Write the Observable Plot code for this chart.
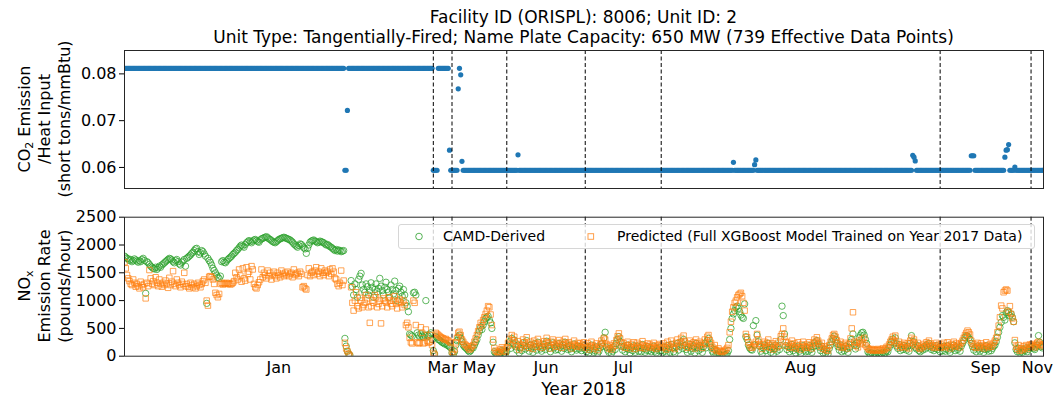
<!DOCTYPE html>
<html><head><meta charset="utf-8">
<script src="https://cdn.jsdelivr.net/npm/d3@7"></script>
<script src="https://cdn.jsdelivr.net/npm/@observablehq/plot@0.6"></script>
<style>
body{margin:0;background:#fff;}
#root{position:relative;width:1056px;height:400px;font-family:"DejaVu Sans",sans-serif;color:#000;overflow:hidden;background:#fff}
.abs{position:absolute}
.title{left:124px;width:919px;top:7px;text-align:center;font-size:17px;line-height:20px;white-space:nowrap}
.ylab{transform:translate(-50%,-50%) rotate(-90deg);text-align:center;font-size:16px;line-height:20px;white-space:nowrap}
sub{font-size:11px;vertical-align:-3px;line-height:0}
.xlab{left:124px;width:919px;top:379px;text-align:center;font-size:17px;line-height:20px}
.legend{left:398px;top:224px;width:637px;height:25px;border:1px solid #d6d6d6;border-radius:3px;background:rgba(255,255,255,0.8);box-sizing:border-box;font-size:14px}
.legend span{position:absolute;top:3px;line-height:17px;white-space:nowrap}
</style></head>
<body>
<div id="root">
  <div id="topPanel" class="abs" style="left:0;top:0"></div>
  <div id="bottomPanel" class="abs" style="left:0;top:188px"></div>
  <div class="abs title">Facility ID (ORISPL): 8006; Unit ID: 2<br>Unit Type: Tangentially-Fired; Name Plate Capacity: 650 MW (739 Effective Data Points)</div>
  <div class="abs ylab" style="left:45px;top:119px">CO<sub>2</sub> Emission<br>/Heat Input<br>(short tons/mmBtu)</div>
  <div class="abs ylab" style="left:45px;top:286px">NO<sub>x</sub><br>Emission Rate<br>(pounds/hour)</div>
  <div class="abs xlab">Year 2018</div>
  <div class="abs legend">
    <svg width="635" height="23" style="position:absolute;left:0;top:0">
      <circle cx="20" cy="11.5" r="3.3" fill="none" stroke="#2ca02c" stroke-opacity="0.8"/>
      <rect x="189" y="8.7" width="5.6" height="5.6" fill="none" stroke="#ff7f0e" stroke-opacity="0.75"/>
    </svg>
    <span style="left:44px">CAMD-Derived</span>
    <span style="left:218px">Predicted (Full XGBoost Model Trained on Year 2017 Data)</span>
  </div>
</div>
<script>
// ---- Data ----
const months = ["Jan","Mar","May","Jun","Jul","Aug","Sep","Nov"];

// CO2 emission / heat input, as runs of [value, count] in data-point order
const co2Runs = [
  [0.0812,177],[0.0594,2],[0.0722,1],[0.0812,68],[0.0594,4],[0.0812,9],[0.0637,1],
  [0.0594,6],[0.0768,1],[0.0812,1],[0.0798,1],[0.0613,1],[0.0594,44],[0.0627,1],
  [0.0594,172],[0.0611,1],[0.0594,16],[0.0606,1],[0.0616,1],[0.0594,125],[0.0626,1],
  [0.0622,1],[0.0614,1],[0.0594,44],[0.0625,3],[0.0594,24],[0.0622,1],[0.0637,1],
  [0.0638,1],[0.0649,1],[0.0594,4],[0.0601,1],[0.0594,23]
];

// NOx emission rate (pounds/hour), CAMD-derived
const camdJan = [
1800,1780,1760,1750,1720,1740,1700,1720,1750,1730,
1710,1690,1720,1700,1740,1760,1720,1130,1700,1680,
1650,1620,1600,1580,1570,1600,1560,1590,1620,1600,
1640,1660,1680,1700,1720,1740,1760,1750,1730,1700,
1680,1720,1740,1700,1660,1640,1690,1710,1740,1620,
1760,1780,1800,1820,1850,1870,1900,1930,1940,1880,
1830,1860,1900,1880,1840,1800,950,1760,1720,1690,
1640,1580,1540,1500,1460,1420,1400,1440,1700,1720,
1690,1680,1710,1740,1760,1780,1800,1830,1850,1870,
1900,1920,1950,1980,2000,1980,1960,2010,2040,2060,
2080,2060,2040,2070,2090,2100,2080,2060,2050,2090,
2110,2120,2130,2140,2150,2130,2110,2100,2080,2060,
2050,2040,2060,2080,2100,2110,2120,2130,2140,2130,
2120,2110,2100,2090,2070,2050,2020,2000,1980,1960,
1990,2020,2010,1980,1950,1930,1850,1940,2000,2050,
2070,2080,2090,2070,2060,2040,2050,2070,2060,2050,
2040,2020,2000,2010,1990,1970,1960,1940,1920,1900,
1920,1890,1910,1900,1880,1890,1900,
320,180,90,40,20,
1360,1250,1100,1300,1200,1060,1380,1440,1490,1280,
1200,1150,1300,1250,1100,1180,1320,1240,1060,1200,
1300,1160,1220,1400,1260,1180,1100,1240,1330,1200,
1150,1060,1280,1200,1120,1350,1180,1000,1220,1260,
1150,1080,1200,1100,960,
900,800,400,380,360,1140,1150,1100,420,380,
350,400,360,340,380,1000,380,360,390,420,300];
const camdMar = [100,40,350,330,300,290,270,250,240,220,230,200,190,170,150];
const camdMay = [
60,30,80,200,280,350,380,320,260,200,170,150,130,100,80,100,150,
150,200,250,300,380,450,520,480,560,620,680,700,720,650,600,500,250,
80,50,30,20,40,60,100,80,60,40];
const camdJun = [
90,180,260,140,320,220,290,170,110,200,
60,150,100,240,190,130,280,160,90,200,
140,70,220,170,110,250,180,130,90,160,
210,120,270,190,140,80,200,240,150,110,
180,120,230,160,90,200,140,250,170,120,
190,130,80,160,220,140,110,180,130,170,
100,150,190];
const camdJul = [
120,80,160,60,110,200,140,70,100,170,
50,90,150,220,180,330,430,160,110,70,
140,50,90,170,120,230,300,350,260,180,
110,170,80,140,200,120,60,160,100,190,
70,130,180,90,150,80,210,140,70,110,
170,100,150,80,120,180,90,60,140,100,
160];
const camdAug = [
100,60,160,90,40,190,130,70,210,150,
80,50,170,230,110,180,260,140,300,190,
120,70,160,210,90,140,180,60,230,160,
100,190,130,70,170,230,150,280,320,220,
160,90,50,120,30,20,60,30,
20,10,10,20,30,50,100,300,
500,680,760,820,880,900,860,800,740,700,680,940,
350,300,200,150,120,110,550,200,640,380,260,180,
90,40,150,200,100,170,230,120,70,160,
40,130,200,90,170,120,300,900,730,400,
190,120,170,80,140,210,100,160,60,130,
180,90,50,140,190,110,80,
150,90,190,120,70,170,240,190,280,220,
160,100,180,60,120,50,90,40,140,200,
260,320,360,300,230,170,110,200,80,150,
100,180,130,70,160,
250,300,400,200,
130,190,250,330,380,420,430,380,300,230,
80,50,40,60,30,50,40,30,60,40,
50,30,70,40,60,100,80,150,200,260,
310,240,330,180,140,210,100,160,120,190,
150,110,180,90,230,370,200,260,160,130,
190,100,80,140,110,170,130,200,160,230,
180,120,150,100,140,190,120,160];
const camdSep = [
80,150,100,180,90,130,190,110,70,160,
140,200,100,170,120,150,90,180,230,280,
340,370,360,330,300,230,170,110,150,80,
180,130,90,170,140,70,120,190,130,90,
160,100,140,180,200,260,340,430,520,610,
730,700,650,780,820,790,730,760,700,620,
240,120,80,140,60,90,70,120,100,150,
80,120,160];
const camdNov = [150,170,140,120,160,200,370,250,180,150,170];

// NOx emission rate (pounds/hour), predicted
const predJan = [
1690,1580,1460,1400,1350,1300,1280,1380,1320,1250,
1300,1260,1220,1340,1280,1240,1300,1040,1320,1260,
1550,1400,1300,1350,1280,1420,1320,1260,1380,1300,
1250,1320,1280,1360,1300,1230,1410,1280,1340,1530,
1300,1260,1380,1320,1280,1240,1340,1300,1500,1260,
1300,1250,1220,1320,1280,1240,1300,1220,1260,1320,
1280,1240,1300,1350,1380,1320,1000,910,1430,1440,
1420,1380,1300,1140,1100,1060,1120,1300,1320,1290,
1310,1300,1320,1300,1310,1290,1300,1320,1350,1500,
1420,1380,1560,1450,1340,1580,1400,1360,1600,1480,
1520,1380,1620,1560,1300,1240,1220,1280,1330,1380,
1560,1420,1500,1460,1400,1540,1440,1500,1380,1460,
1520,1440,1400,1500,1460,1420,1540,1480,1440,1500,
1460,1520,1440,1480,1500,1420,1560,1460,1480,1500,
1440,1520,1480,1240,1260,1220,1200,1460,1580,1440,
1500,1520,1460,1540,1600,1480,1520,1440,1580,1500,
1460,1540,1500,1520,1440,1560,1480,1580,1520,1400,
1380,1300,1260,1320,1540,1280,1360,
240,140,90,40,10,
1240,960,820,1000,1150,900,860,1050,1000,880,
920,960,1100,1040,880,600,900,1000,960,1100,
1060,880,940,1000,590,900,1040,1000,960,880,
1060,1000,940,900,1000,1080,940,860,980,1020,
960,880,1000,920,560,
600,520,330,250,230,1000,960,560,250,230,
240,520,420,230,250,480,280,240,260,380,200];
const predMar = [60,30,420,400,380,360,340,330,320,300,310,290,280,260,240];
const predMay = [
80,40,120,250,330,420,440,380,300,260,220,200,180,150,120,140,180,
200,260,320,380,450,520,600,560,650,700,760,820,900,880,750,560,300,
150,100,80,60,80,120,160,130,100,80];
const predJun = [
160,240,310,200,380,290,350,230,180,270,
120,210,160,300,250,190,340,220,150,260,
200,130,280,230,170,310,240,190,150,220,
270,180,330,250,200,140,260,300,210,170,
240,180,290,220,150,260,200,310,230,180,
250,190,140,220,280,200,170,240,190,230,
160,210,250];
const predJul = [
190,150,230,120,180,260,200,140,170,230,
110,160,210,280,240,330,300,220,180,140,
200,120,160,230,190,290,360,410,320,250,
180,230,150,200,260,190,140,220,170,250,
130,190,240,160,210,150,270,200,140,180,
230,170,210,150,190,240,160,130,200,170,
220];
const predAug = [
190,150,230,170,120,260,200,150,280,220,
160,130,240,300,180,250,330,210,370,260,
190,150,230,280,170,210,250,140,300,230,
180,260,200,150,240,300,220,350,380,290,
240,170,130,200,110,90,140,100,
80,70,90,100,120,150,200,430,
620,800,880,960,1000,1060,1100,1120,1140,1080,960,820,
400,340,250,200,160,150,180,220,260,400,300,220,
180,130,220,260,170,240,300,190,150,230,
120,200,270,160,240,190,360,400,500,350,
260,190,240,150,210,280,170,230,140,200,
250,160,120,210,260,180,150,
210,160,250,190,140,230,300,260,340,280,
220,170,240,130,180,110,150,100,200,260,
320,380,400,350,290,230,180,260,150,210,
170,240,190,140,220,
320,500,790,260,
190,240,160,280,220,300,250,330,200,170,
140,120,110,130,100,120,110,100,130,110,
120,100,140,110,130,170,150,210,260,300,
350,280,370,230,190,260,150,210,170,240,
200,160,230,140,280,330,250,300,210,180,
240,150,130,190,160,220,180,250,210,280,
230,170,200,150,190,240,170,210];
const predSep = [
150,210,170,240,160,190,250,180,140,220,
200,260,170,230,190,210,160,240,280,330,
380,420,460,430,390,280,230,170,210,150,
240,190,160,230,200,140,180,250,190,160,
220,170,200,240,280,330,430,550,700,910,
860,1150,1180,1200,1180,800,900,760,680,620,
290,170,130,200,100,140,110,180,150,200,
130,170,210];
const predNov = [200,220,180,160,200,240,260,220,200,180,210];

const yTicksTop = [0.06, 0.07, 0.08];
const yTicksBottom = [0, 500, 1000, 1500, 2000, 2500];

// ---- Build tables ----
const camdByMonth = [camdJan, camdMar, camdMay, camdJun, camdJul, camdAug, camdSep, camdNov];
const predByMonth = [predJan, predMar, predMay, predJun, predJul, predAug, predSep, predNov];
const rows = [];
const starts = [];
camdByMonth.forEach((arr, m) => {
  starts.push(rows.length);
  const p = predByMonth[m];
  const n = Math.min(arr.length, p.length);
  for (let j = 0; j < n; j++) rows.push({i: rows.length, camd: arr[j], pred: p[j]});
});
const N = rows.length;
const co2 = co2Runs.flatMap(([v, c]) => Array(c).fill(v)).map((v, i) => ({i, v}));
const lastIdx = Math.max(N, co2.length) - 1;
const dashes = starts.slice(1);
const bounds = starts.concat([lastIdx]);
const mids = months.map((m, k) => (bounds[k] + bounds[k + 1]) / 2);
const nameAt = new Map(mids.map((v, k) => [v, months[k]]));

const plotStyle = {fontFamily: "DejaVu Sans", fontSize: "16px", color: "#000", background: "transparent", overflow: "visible"};
const xDom = [0, lastIdx];

const topChart = Plot.plot({
  width: 1056, height: 188, marginTop: 50, marginBottom: 0, marginLeft: 124, marginRight: 13,
  style: plotStyle,
  x: {domain: xDom, axis: null},
  y: {domain: [0.0555, 0.085], axis: null},
  marks: [
    Plot.dot(co2, {x: "i", y: "v", r: 2.6, fill: "#1f77b4", clip: true}),
    Plot.ruleX(dashes, {stroke: "#000", strokeWidth: 1, strokeDasharray: "4,2.5"}),
    Plot.axisY({ticks: yTicksTop, tickFormat: d3.format(".2f"), tickSize: 5, tickPadding: 3, label: null}),
    Plot.frame({stroke: "#262626", strokeWidth: 1})
  ]
});
document.getElementById("topPanel").appendChild(topChart);

const bottomChart = Plot.plot({
  width: 1056, height: 212, marginTop: 28.7, marginBottom: 44.3, marginLeft: 124, marginRight: 13,
  style: plotStyle,
  x: {domain: xDom, axis: null},
  y: {domain: [0, 2500], axis: null},
  marks: [
    Plot.dot(rows, {x: "i", y: "camd", r: 3.2, stroke: "#2ca02c", strokeOpacity: 0.75, strokeWidth: 1, fill: "none", clip: true}),
    Plot.dot(rows, {x: "i", y: "pred", r: 3.1, symbol: "square", stroke: "#ff7f0e", strokeOpacity: 0.7, strokeWidth: 1, fill: "none", clip: true}),
    Plot.ruleX(dashes, {stroke: "#000", strokeWidth: 1, strokeDasharray: "4,2.5"}),
    Plot.axisY({ticks: yTicksBottom, tickFormat: d3.format("d"), tickSize: 5, tickPadding: 3, label: null}),
    Plot.axisX({ticks: mids, tickFormat: d => nameAt.get(d), tickSize: 0, tickPadding: 5, label: null}),
    Plot.frame({stroke: "#262626", strokeWidth: 1})
  ]
});
document.getElementById("bottomPanel").appendChild(bottomChart);
</script>
</body></html>
